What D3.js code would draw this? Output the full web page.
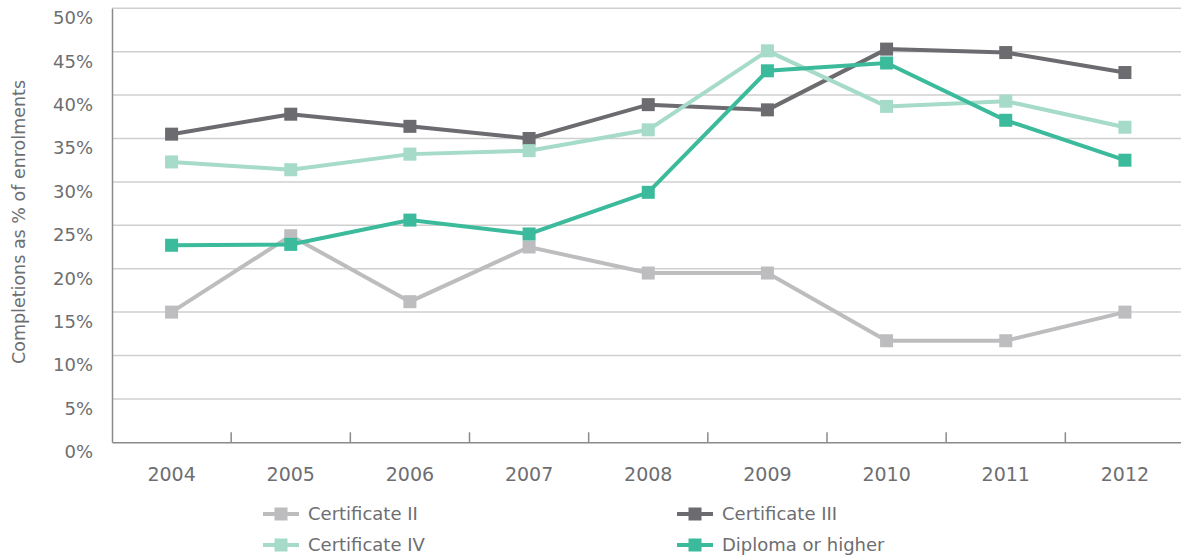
<!DOCTYPE html>
<html>
<head>
<meta charset="utf-8">
<style>
  body { margin: 0; background: #fff; }
  text { font-family: "DejaVu Sans", sans-serif; fill: #6d6e71; }
</style>
</head>
<body>
<svg width="1181" height="558"></svg>
<script src="https://d3js.org/d3.v7.min.js"></script>
<script>

var years = ["2004", "2005", "2006", "2007", "2008", "2009", "2010", "2011", "2012"];
var yTicks = [0, 5, 10, 15, 20, 25, 30, 35, 40, 45, 50];

var cert2 = [15.0, 23.8, 16.2, 22.5, 19.5, 19.5, 11.7, 11.7, 15.0];
var cert3 = [35.5, 37.8, 36.4, 35.0, 38.9, 38.3, 45.3, 44.9, 42.6];
var cert4 = [32.3, 31.4, 33.2, 33.6, 36.0, 45.1, 38.7, 39.3, 36.3];
var diploma = [22.7, 22.8, 25.6, 24.0, 28.8, 42.8, 43.7, 37.1, 32.5];

var series = [
  {name: "Certificate II", values: cert2, color: "#bdbdbf"},
  {name: "Certificate III", values: cert3, color: "#6b6b70"},
  {name: "Certificate IV", values: cert4, color: "#a5dbc8"},
  {name: "Diploma or higher", values: diploma, color: "#3bbb9b"}
];

var svg = d3.select("svg");
var plotLeft = 112, plotRight = 1184.5, plotTop = 8.3, plotBottom = 442.3;

var x = d3.scaleBand().domain(years).range([plotLeft, plotRight]);
var y = d3.scaleLinear().domain([0, 50]).range([plotBottom, plotTop]);

// gridlines
svg.append("g")
  .selectAll("line")
  .data(yTicks.slice(1))
  .enter().append("line")
    .attr("x1", plotLeft).attr("x2", 1181)
    .attr("y1", function(d) { return y(d); })
    .attr("y2", function(d) { return y(d); })
    .attr("stroke", "#cfcfd0")
    .attr("stroke-width", 1.5);

// y axis (labels sit a little below their gridlines)
var yAxis = svg.append("g")
  .attr("transform", "translate(" + plotLeft + ",0)")
  .call(d3.axisLeft(y).tickValues(yTicks).tickSize(0).tickPadding(19)
    .tickFormat(function(d) { return d + "%"; }));
yAxis.select(".domain").attr("stroke", "#8a8a8c").attr("stroke-width", 1.5);
yAxis.selectAll("text").style("font-size", "18px").attr("fill", "#6d6e71")
  .attr("y", 9).attr("dy", "0.35em");

// x axis with ticks between categories
var xAxis = svg.append("g")
  .attr("transform", "translate(0," + plotBottom + ")")
  .call(d3.axisBottom(x).tickSize(0).tickPadding(25));
xAxis.select(".domain").attr("stroke", "#8a8a8c").attr("stroke-width", 1.5);
xAxis.selectAll("text").style("font-size", "19px").attr("fill", "#6d6e71");
xAxis.selectAll(".sep")
  .data(years.slice(1))
  .enter().append("line")
    .attr("class", "sep")
    .attr("x1", function(d) { return x(d); })
    .attr("x2", function(d) { return x(d); })
    .attr("y1", 0).attr("y2", -10)
    .attr("stroke", "#8a8a8c").attr("stroke-width", 1.5);

// y title
svg.append("text")
  .attr("transform", "translate(25," + 222 + ") rotate(-90)")
  .attr("text-anchor", "middle")
  .style("font-size", "17.5px")
  .text("Completions as % of enrolments");

var line = d3.line()
  .x(function(d, i) { return x(years[i]) + x.bandwidth() / 2; })
  .y(function(d) { return y(d); });

series.forEach(function(s) {
  var g = svg.append("g");
  g.append("path")
    .datum(s.values)
    .attr("fill", "none")
    .attr("stroke", s.color)
    .attr("stroke-width", 4)
    .attr("d", line);
  g.selectAll("rect")
    .data(s.values)
    .enter().append("rect")
      .attr("x", function(d, i) { return x(years[i]) + x.bandwidth() / 2 - 6.5; })
      .attr("y", function(d) { return y(d) - 6.5; })
      .attr("width", 13).attr("height", 13)
      .attr("fill", s.color);
});

// legend
var legendPos = [[263, 514], [677, 514], [263, 545], [677, 545]];
series.forEach(function(s, i) {
  var p = legendPos[i];
  var lg = svg.append("g").attr("transform", "translate(" + p[0] + "," + p[1] + ")");
  lg.append("line")
    .attr("x1", 0).attr("x2", 36).attr("y1", 0).attr("y2", 0)
    .attr("stroke", s.color).attr("stroke-width", 4);
  lg.append("rect")
    .attr("x", 11.5).attr("y", -6.5).attr("width", 13).attr("height", 13)
    .attr("fill", s.color);
  lg.append("text")
    .attr("x", 45).attr("y", 0).attr("dy", "0.35em")
    .style("font-size", "18px")
    .text(s.name);
});

</script>
</body>
</html>
